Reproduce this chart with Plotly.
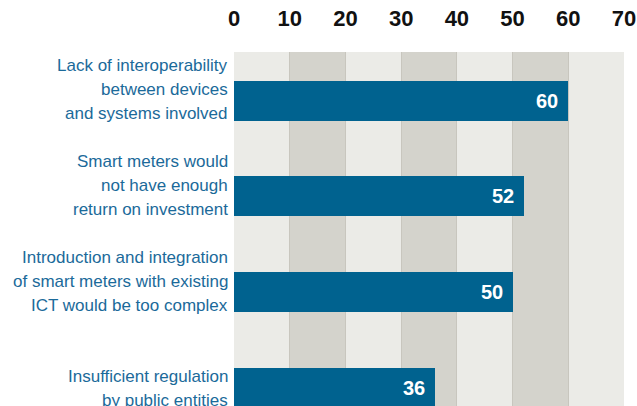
import plotly.graph_objects as go

labels = [
    ["Lack of interoperability", "between devices", "and systems involved"],
    ["Smart meters would", "not have enough", "return on investment"],
    ["Introduction and integration", "of smart meters with existing", "ICT would be too complex"],
    ["Insufficient regulation", "by public entities"],
]
values = [60, 52, 50, 36]
tick_values = [0, 10, 20, 30, 40, 50, 60, 70]

BAR = "#00628f"
TXT = "#1b6a9a"
LIGHT = "#ebebe7"
DARK = "#d4d3cc"
FONT = "Liberation Sans, Arial, sans-serif"

pos = list(range(len(values)))

fig = go.Figure()
fig.add_trace(go.Bar(
    x=values, y=pos, orientation="h", width=0.418,
    marker=dict(color=BAR, line=dict(width=0)),
    hoverinfo="skip",
))

# alternating background bands
for i in range(len(tick_values) - 1):
    fig.add_shape(type="rect", xref="x", yref="paper",
                  x0=tick_values[i], x1=tick_values[i + 1], y0=0, y1=1,
                  fillcolor=LIGHT if i % 2 == 0 else DARK,
                  line=dict(width=0), layer="below")

# value labels
for p, v in zip(pos, values):
    fig.add_annotation(x=v, y=p, text=f"<b>{v}</b>", showarrow=False,
                       xanchor="right", yanchor="middle", xshift=-8,
                       font=dict(family=FONT, size=20, color="white"))

# category labels, bottom-anchored, one annotation per line
for p, lines in zip(pos, labels):
    n = len(lines)
    for j, line in enumerate(lines):
        k = n - 1 - j
        fig.add_annotation(x=0, xref="paper", y=p, yref="y", text=line,
                           showarrow=False, xanchor="right", yanchor="middle",
                           xshift=-4, yshift=-13 + 24 * k,
                           font=dict(family=FONT, size=17, color=TXT))

fig.update_layout(
    width=637, height=406,
    margin=dict(l=234, r=13, t=52, b=0),
    paper_bgcolor="white", plot_bgcolor="rgba(0,0,0,0)",
    showlegend=False,
    bargap=0,
)
fig.update_xaxes(
    side="top", range=[0, 70], tickvals=tick_values,
    tickfont=dict(family=FONT, size=22, color="#111111", weight="bold"),
    showgrid=True, gridcolor="#c8c6be", gridwidth=1,
    zeroline=False, showline=False,
    ticks="outside", ticklen=16, tickcolor="rgba(0,0,0,0)",
    fixedrange=True,
)
fig.update_yaxes(
    range=[3.19, -0.51], tickvals=pos, showticklabels=False,
    showgrid=False, zeroline=False, showline=False, fixedrange=True,
)

fig.write_html("out.html", config={"displayModeBar": False})
